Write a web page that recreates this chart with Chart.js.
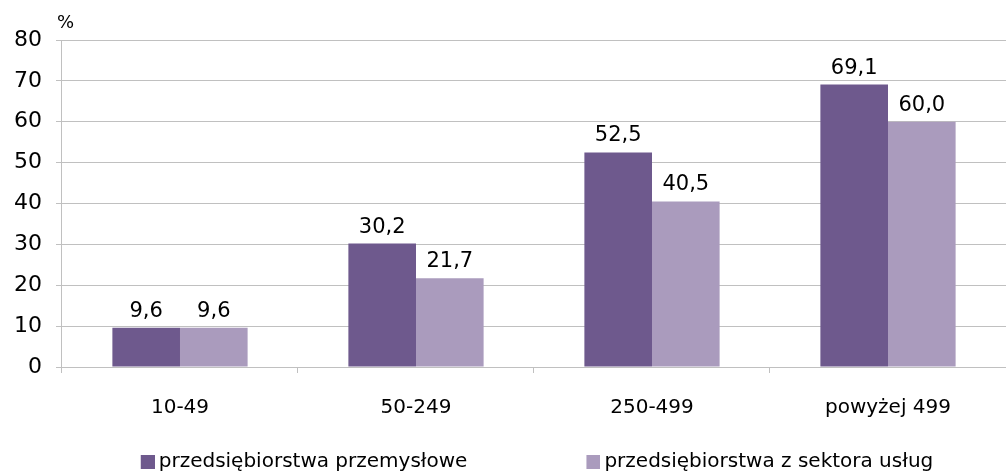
<!DOCTYPE html>
<html>
<head>
<meta charset="utf-8">
<script src="https://cdn.jsdelivr.net/npm/chart.js@4.4.0/dist/chart.umd.min.js"></script>
<style>
  html, body { margin: 0; padding: 0; background: #fff; }
  #wrap { width: 1006px; height: 472px; }
</style>
</head>
<body>
<div id="wrap"><canvas id="myChart"></canvas></div>
<script>
// data
const categories = ['10-49', '50-249', '250-499', 'powyżej 499']
const przemyslowe = [9.6, 30.2, 52.5, 69.1]
const uslugi = [9.6, 21.7, 40.5, 60.0]
const seriesNames = ['przedsiębiorstwa przemysłowe', 'przedsiębiorstwa z sektora usług']
const yTicks = [0, 10, 20, 30, 40, 50, 60, 70, 80]

const colors = ['#6E598D', '#AA9BBD']
const gridColor = '#C0C0C0'
const fontName = '"DejaVu Sans", Verdana, sans-serif'

// legend marker: a square at the right end of a wide transparent strip,
// so the gap between the two legend items gets wider
const markerSlot = 105
function makeMarker(color) {
  const c = document.createElement('canvas')
  c.width = markerSlot + 12
  c.height = 14
  const g = c.getContext('2d')
  g.fillStyle = color
  g.fillRect(c.width - 14, 0, 14, 14)
  return c
}
const markers = colors.map(makeMarker)

// value labels above the bars, with a decimal comma
const barLabels = {
  id: 'barLabels',
  afterDatasetsDraw(chart) {
    const ctx = chart.ctx
    ctx.save()
    ctx.font = '21px ' + fontName
    ctx.fillStyle = '#000'
    ctx.textAlign = 'center'
    ctx.textBaseline = 'alphabetic'
    chart.data.datasets.forEach((ds, i) => {
      chart.getDatasetMeta(i).data.forEach((bar, j) => {
        ctx.fillText(ds.data[j].toFixed(1).replace('.', ','), bar.x, bar.y - 11)
      })
    })
    ctx.restore()
  }
}

// the "%" unit over the y axis, and nudge the legend into place
const extras = {
  id: 'extras',
  afterLayout(chart) {
    const lg = chart.legend
    lg.top -= 13
    lg.bottom -= 13
    lg.left -= 17
    lg.right -= 17
  },
  afterDraw(chart) {
    const ctx = chart.ctx
    const y = chart.scales.y
    ctx.save()
    ctx.font = '18px ' + fontName
    ctx.fillStyle = '#000'
    ctx.textAlign = 'left'
    ctx.textBaseline = 'alphabetic'
    ctx.fillText('%', y.right - 5, y.top - 12)
    ctx.restore()
  }
}

const ctx = document.getElementById('myChart').getContext('2d')
const myChart = new Chart(ctx, {
  type: 'bar',
  data: {
    labels: categories,
    datasets: [{
      label: seriesNames[0],
      data: przemyslowe,
      backgroundColor: colors[0],
      categoryPercentage: 0.573,
      barPercentage: 1
    }, {
      label: seriesNames[1],
      data: uslugi,
      backgroundColor: colors[1],
      categoryPercentage: 0.573,
      barPercentage: 1
    }]
  },
  options: {
    responsive: true,
    maintainAspectRatio: false,
    animation: false,
    layout: { padding: { top: 40, right: -5, left: 0, bottom: -23 } },
    scales: {
      y: {
        min: yTicks[0],
        max: yTicks[yTicks.length - 1],
        afterBuildTicks(scale) { scale.ticks = yTicks.map(v => ({ value: v })) },
        ticks: { color: '#000', font: { size: 22, family: fontName }, padding: 14 },
        grid: { color: gridColor, tickLength: 6 },
        border: { display: true, color: gridColor }
      },
      x: {
        ticks: { color: '#000', font: { size: 20, family: fontName }, padding: 23 },
        grid: { offset: true, drawOnChartArea: false, color: gridColor, tickLength: 6 },
        border: { display: true, color: gridColor }
      }
    },
    plugins: {
      legend: {
        position: 'bottom',
        labels: {
          color: '#000',
          font: { size: 20, family: fontName },
          usePointStyle: true,
          pointStyleWidth: markerSlot,
          boxHeight: 14,
          padding: 22,
          generateLabels(chart) {
            const items = Chart.defaults.plugins.legend.labels.generateLabels(chart)
            items.forEach((it, i) => { it.pointStyle = markers[i] })
            return items
          }
        }
      },
      tooltip: { enabled: false }
    }
  },
  plugins: [barLabels, extras]
})
</script>
</body>
</html>
